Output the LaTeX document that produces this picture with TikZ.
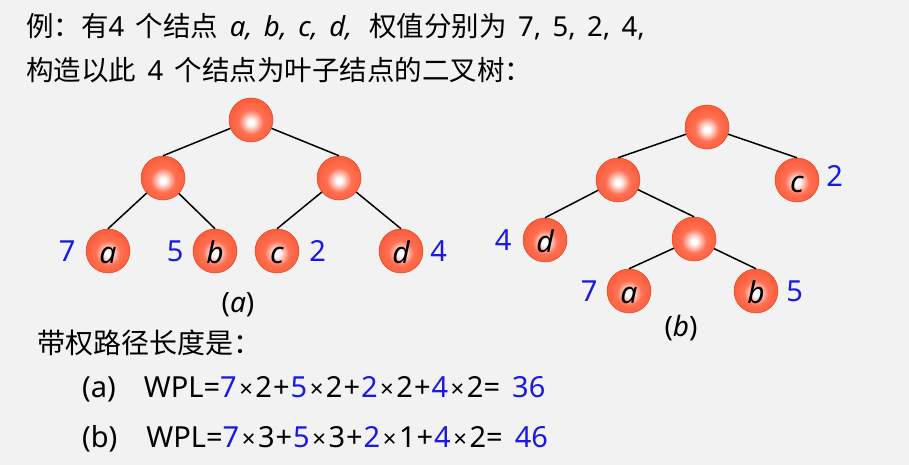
\documentclass[tikz,border=0pt]{standalone}
\usepackage{fontspec}
\setmainfont{Noto Sans CJK SC}
\newfontfamily\latinfont{Noto Sans}[WordSpace=1.6]
\usetikzlibrary{positioning}
\definecolor{bgray}{RGB}{242,242,242}
\definecolor{wblue}{RGB}{25,25,225}
\definecolor{orbmid}{RGB}{255,112,82}
\definecolor{orbout}{RGB}{247,82,46}
\definecolor{orbrim}{RGB}{234,64,30}
\pgfdeclareradialshading{orb}{\pgfpoint{0bp}{-3bp}}{color(0bp)=(white); color(3bp)=(white); color(14bp)=(orbmid); color(34bp)=(orbout); color(50bp)=(orbrim)}
\newcommand{\lf}[1]{{\latinfont #1}}
\newcommand{\ital}[1]{{\latinfont\itshape #1}}
\newcommand{\tms}{\kern2.5pt{\fontsize{24}{24}\selectfont ×}\kern2.5pt}
\newcommand{\bl}[1]{\textcolor{wblue}{#1}}

\begin{document}
\begin{tikzpicture}[x=1pt,y=-1pt,
  ball/.style={circle,minimum size=44pt,inner sep=0pt,shading=orb,draw=orbrim,line width=0.5pt,
    text height=24pt,text depth=0pt,font=\fontsize{30}{30}\selectfont\latinfont\itshape},
  wt/.style={text=wblue,inner sep=0pt,font=\fontsize{29}{29}\selectfont\latinfont},
  txt/.style={anchor=base west,inner sep=0pt,font=\fontsize{27.5}{30}\selectfont},
  sumline/.style={anchor=base west,inner sep=0pt,font=\fontsize{29}{29}\selectfont\latinfont},
  treecap/.style={inner sep=0pt,font=\fontsize{28}{28}\selectfont\latinfont},
  branch/.style={line width=1.5pt}]
\fill[bgray] (0,0) rectangle (909,465);
\useasboundingbox (0,0) rectangle (909,465);

\node[txt] (line1) at (26,37) {例：有\lf{4 }个结点\ital{ a, b, c, d,\hspace{17pt}}权值分别为\lf{ 7, 5, 2, 4,}};
\node[txt] (line2) at (26,81) {构造以此\lf{ 4 }个结点为叶子结点的二叉树：};

\node[ball] (aroot) at (251,120) {};
\node[ball] (aL) at (163,178) {};
\node[ball] (aR) at (339,178) {};
\node[ball] (aa) at (108,251) {a};
\node[ball] (ab) at (215,251) {b};
\node[ball] (ac) at (277,251) {c};
\node[ball] (ad) at (401,251) {d};
\node[wt,left=10pt of aa] (wa) {7};
\node[wt,left=9pt of ab] (wb) {5};
\node[wt,right=10pt of ac] (wc) {2};
\node[wt,right=7pt of ad] (wd) {4};
\draw[branch] (aroot) -- (aL.north);
\draw[branch] (aroot) -- (aR.north);
\draw[branch] (aL) -- (aa.north);
\draw[branch] (aL) -- (ab.north);
\draw[branch] (aR) -- (ac.north);
\draw[branch] (aR) -- (ad.north);
\node[treecap] (capa) at (238,305) {(\textit{a})};

\node[ball] (broot) at (707,127) {};
\node[ball] (bL) at (618,180) {};
\node[ball] (bc) at (797,180) {c};
\node[ball] (bd) at (545,240) {d};
\node[ball] (bM) at (694,239) {};
\node[ball] (ba) at (629,291) {a};
\node[ball] (bb) at (756,291) {b};
\node[wt,right=7pt of bc,yshift=4pt] (w2) {2};
\node[wt,left=11pt of bd] (w4) {4};
\node[wt,left=9pt of ba] (w7) {7};
\node[wt,right=8pt of bb] (w5) {5};
\draw[branch] (broot) -- (bL.north);
\draw[branch] (broot) -- (bc.north);
\draw[branch] (bL) -- (bd.north);
\draw[branch] (bL) -- (bM.north);
\draw[branch] (bM) -- (ba.north);
\draw[branch] (bM) -- (bb.north);
\node[treecap] (capb) at (681,328) {(\textit{b})};

\node[txt,font=\fontsize{28}{30}\selectfont] (wpl) at (37,353) {带权路径长度是：};
\node[sumline] (suma) at (82,397) {(a)\hspace{28pt}WPL=\bl{7}\tms2\kern1pt+\kern1pt\bl{5}\tms2\kern1pt+\kern1pt\bl{2}\tms2\kern1pt+\kern1pt\bl{4}\tms2= \bl{36}};
\node[sumline] (sumb) at (82,447) {(b)\hspace{29pt}WPL=\bl{7}\tms3\kern1pt+\kern1pt\bl{5}\tms3\kern1pt+\kern1pt\bl{2}\tms1\kern1pt+\kern1pt\bl{4}\tms2= \bl{46}};
\end{tikzpicture}
\end{document}
